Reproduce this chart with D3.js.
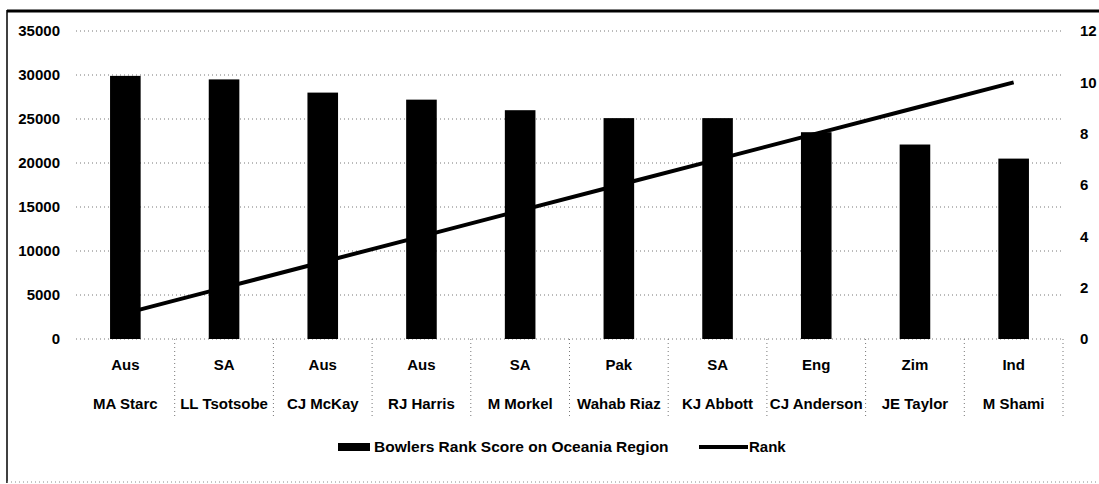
<!DOCTYPE html>
<html>
<head>
<meta charset="utf-8">
<script src="https://cdn.jsdelivr.net/npm/d3@7"></script>
<style>
  body { margin: 0; background: #fff; }
  svg text { font-family: "Liberation Sans", Arial, sans-serif; font-weight: bold; fill: #000; }
</style>
</head>
<body>
<svg id="chart" width="1099" height="484"></svg>
<script>
// Chart data
var bowlers = ["MA Starc", "LL Tsotsobe", "CJ McKay", "RJ Harris", "M Morkel", "Wahab Riaz", "KJ Abbott", "CJ Anderson", "JE Taylor", "M Shami"];
var countries = ["Aus", "SA", "Aus", "Aus", "SA", "Pak", "SA", "Eng", "Zim", "Ind"];
var scores = [29900, 29500, 28000, 27200, 26000, 25100, 25100, 23500, 22100, 20500];
var ranks = [1, 2, 3, 4, 5, 6, 7, 8, 9, 10];
var leftTicks = [0, 5000, 10000, 15000, 20000, 25000, 30000, 35000];
var rightTicks = [0, 2, 4, 6, 8, 10, 12];

var svg = d3.select("#chart");

var plot = { left: 76, right: 1063, top: 31, bottom: 339 };

var x = d3.scaleBand().domain(bowlers).range([plot.left, plot.right]).padding(0);
var y = d3.scaleLinear().domain([0, 35000]).range([plot.bottom, plot.top]);
var y2 = d3.scaleLinear().domain([0, 12]).range([plot.bottom, plot.top]);

// Chart frame (top and left solid, bottom faint dotted)
svg.append("line").attr("x1", 7).attr("x2", 1099).attr("y1", 11).attr("y2", 11)
    .style("stroke", "#000").style("stroke-width", 3);
svg.append("line").attr("x1", 7).attr("x2", 7).attr("y1", 10).attr("y2", 483)
    .style("stroke", "#000").style("stroke-width", 1.5);
svg.append("line").attr("x1", 7).attr("x2", 1099).attr("y1", 482).attr("y2", 482)
    .style("stroke", "#888").style("stroke-width", 1).style("stroke-dasharray", "1,3");

// Horizontal dotted gridlines
svg.selectAll(".grid")
    .data(leftTicks)
    .enter().append("line")
    .attr("class", "grid")
    .attr("x1", plot.left)
    .attr("x2", plot.right)
    .attr("y1", d => y(d))
    .attr("y2", d => y(d))
    .style("stroke", "#777")
    .style("stroke-width", 1)
    .style("stroke-dasharray", "1,3");

// Category separators under the axis
var seps = d3.range(1, bowlers.length + 1).map(i => plot.left + i * x.step());
svg.selectAll(".sep")
    .data(seps)
    .enter().append("line")
    .attr("class", "sep")
    .attr("x1", d => d).attr("x2", d => d)
    .attr("y1", plot.bottom).attr("y2", 417)
    .style("stroke", "#777")
    .style("stroke-width", 1)
    .style("stroke-dasharray", "1,3");

// Rank line (drawn beneath the bars)
var line = d3.line()
    .x((d, i) => x(bowlers[i]) + x.bandwidth() / 2)
    .y(d => y2(d));

svg.append("path")
    .datum(ranks)
    .attr("d", line)
    .style("fill", "none")
    .style("stroke", "#000")
    .style("stroke-width", 4);

// Bars
var barW = x.bandwidth() * 0.31;
svg.selectAll(".bar")
    .data(scores)
    .enter().append("rect")
    .attr("class", "bar")
    .attr("x", (d, i) => x(bowlers[i]) + (x.bandwidth() - barW) / 2)
    .attr("y", d => y(d))
    .attr("width", barW)
    .attr("height", d => y(0) - y(d))
    .style("fill", "#000");

// Left axis
svg.append("g")
    .attr("transform", "translate(" + plot.left + ",0)")
    .call(d3.axisLeft(y).tickValues(leftTicks).tickSize(0).tickPadding(16).tickFormat(d3.format("d")))
    .call(g => g.select(".domain").remove())
    .selectAll("text")
    .style("font-size", "15px");

// Right axis
svg.append("g")
    .attr("transform", "translate(" + plot.right + ",0)")
    .call(d3.axisRight(y2).tickValues(rightTicks).tickSize(0).tickPadding(17))
    .call(g => g.select(".domain").remove())
    .selectAll("text")
    .style("font-size", "15px");

// Category labels: country row and bowler row
svg.append("g")
    .attr("transform", "translate(0," + plot.bottom + ")")
    .call(d3.axisBottom(x).tickSize(0).tickPadding(20).tickFormat((d, i) => countries[i]))
    .call(g => g.select(".domain").remove())
    .selectAll("text")
    .style("font-size", "15px");

svg.append("g")
    .attr("transform", "translate(0," + plot.bottom + ")")
    .call(d3.axisBottom(x).tickSize(0).tickPadding(59))
    .call(g => g.select(".domain").remove())
    .selectAll("text")
    .style("font-size", "15px");

// Legend
var legend = svg.append("g");
legend.append("rect")
    .attr("x", 338).attr("y", 443).attr("width", 32).attr("height", 8)
    .style("fill", "#000");
legend.append("text")
    .attr("x", 374).attr("y", 452)
    .style("font-size", "15.5px")
    .text("Bowlers Rank Score on Oceania Region");
legend.append("line")
    .attr("x1", 699).attr("x2", 748).attr("y1", 447).attr("y2", 447)
    .style("stroke", "#000").style("stroke-width", 4);
legend.append("text")
    .attr("x", 749).attr("y", 452)
    .style("font-size", "15px")
    .text("Rank");
</script>
</body>
</html>
